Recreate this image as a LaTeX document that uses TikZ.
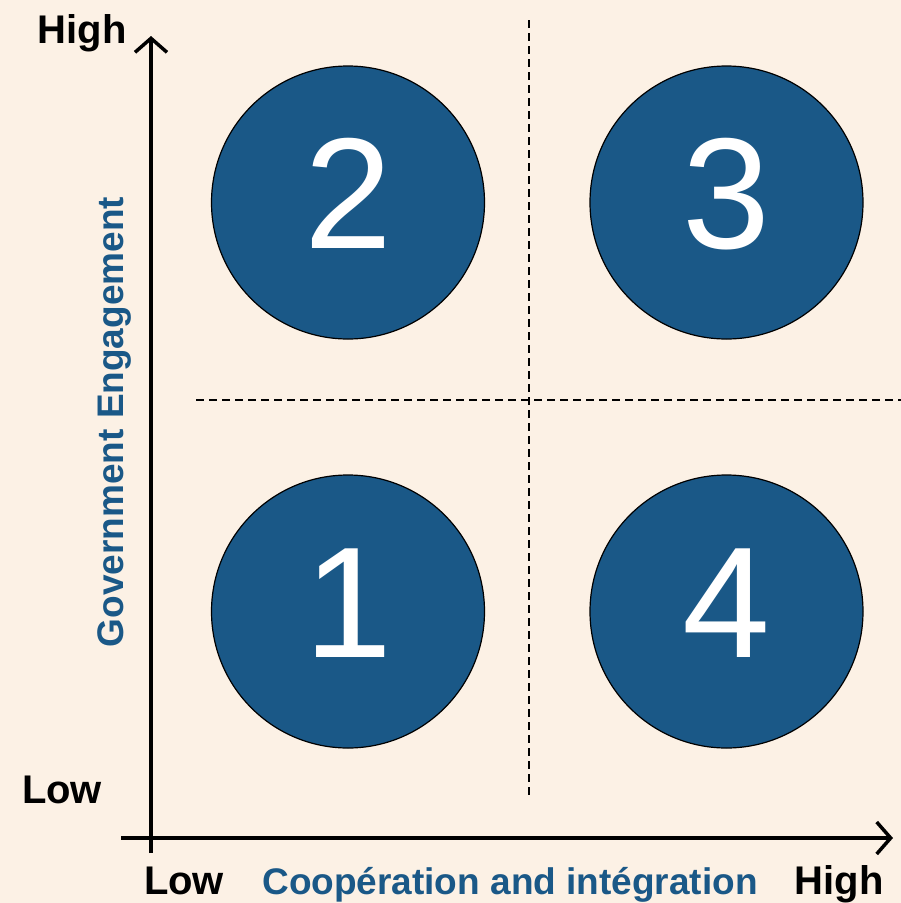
\documentclass[tikz,border=0pt]{standalone}
\usepackage{fontspec}
\setmainfont{Liberation Sans}
\usetikzlibrary{arrows.meta}
\definecolor{paper}{HTML}{FCF1E5}
\definecolor{quadblue}{HTML}{1A5887}
\tikzset {
    axis/.style = {line width = 3.5pt, arrows = {-Straight Barb[length = 14pt, width = 32pt, line width = 3.5pt]}},
    divider/.style = {line width = 1.4pt, dash pattern = on 8pt off 5pt},
    quadrant/.style = {circle, draw = black, line width = 1.2pt, fill = quadblue,
        minimum size = 273pt, inner sep = 0pt, text = white,
        text height = 113pt, text depth = 22pt,
        font = \fontsize{158}{158}\selectfont},
    level/.style = {anchor = base, inner sep = 0pt, font = \bfseries\fontsize{40}{40}\selectfont},
    title/.style = {anchor = base, inner sep = 0pt, text = quadblue,
        font = \bfseries\fontsize{37}{37}\selectfont}
}
\begin{document}
\begin{tikzpicture}[x = 1pt, y = -1pt]
    \fill [paper] (0, 0) rectangle (901, 903);
    \useasboundingbox (0, 0) rectangle (901, 903);
    % axes
    \coordinate (o) at (151, 838);
    \coordinate (xstart) at (121, 838);
    \coordinate (xend) at (893, 838);
    \coordinate (ystart) at (151, 853);
    \coordinate (yend) at (151, 36);
    \draw [axis] (ystart) -- (yend);
    \draw [axis] (xstart) -- (xend);
    % quadrant dividers
    \coordinate (vtop) at (529, 20);
    \coordinate (vbot) at (529, 795);
    \coordinate (hleft) at (196, 400);
    \coordinate (hright) at (901, 400);
    \draw [divider] (vtop) -- (vbot);
    \draw [divider] (hleft) -- (hright);
    % quadrants
    \node (q2) [quadrant] at (348, 202.5) {2};
    \node (q3) [quadrant] at (726.5, 202.5) {3};
    \node (q1) [quadrant] at (348, 611.5) {1};
    \node (q4) [quadrant] at (726.5, 611.5) {4};
    % labels
    \node (yhigh) [level] at (82, 43) {High};
    \node (ylow) [level] at (62, 803) {Low};
    \node (xlow) [level] at (184, 894) {Low};
    \node (xhigh) [level] at (839, 894) {High};
    \node (xtitle) [title] at (510, 894) {Coopération and intégration};
    \node (ytitle) [title, rotate = 90] at (123, 422) {Government Engagement};
\end{tikzpicture}
\end{document}
